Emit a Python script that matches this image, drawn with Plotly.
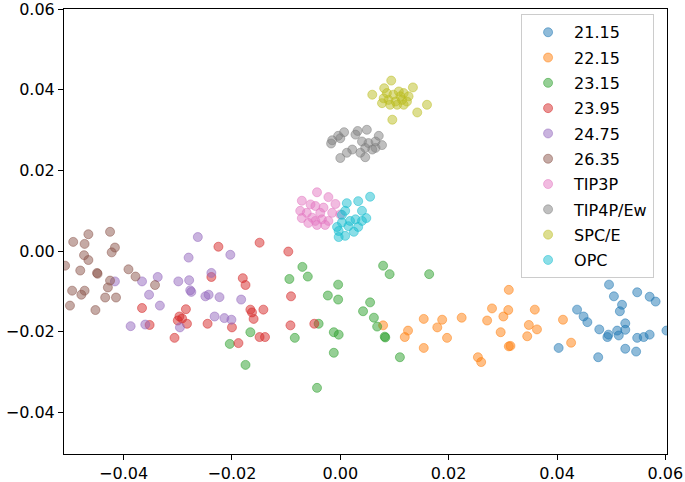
import plotly.graph_objects as go

labels = ["21.15", "22.15", "23.15", "23.95", "24.75", "26.35", "TIP3P", "TIP4P/Ew", "SPC/E", "OPC"]
colors = ["31,119,180", "255,127,14", "44,160,44", "214,39,40", "148,103,189",
          "140,86,75", "227,119,194", "127,127,127", "188,189,34", "23,190,207"]

x_2115 = [0.0496, 0.0505, 0.0548, 0.0571, 0.0582, 0.0520, 0.0516, 0.0437, 0.0449, 0.0456, 0.0478, 0.0493, 0.0495,
          0.0511, 0.0526, 0.0526, 0.0514, 0.0548, 0.0560, 0.0571, 0.0602, 0.0526, 0.0546, 0.0403, 0.0476]
y_2115 = [-0.0083, -0.0112, -0.0102, -0.0113, -0.0125, -0.0133, -0.0149, -0.0145, -0.0162, -0.0176, -0.0194, -0.0213,
          -0.0207, -0.0197, -0.0179, -0.0195, -0.0209, -0.0215, -0.0213, -0.0207, -0.0197, -0.0242, -0.0249, -0.0240, -0.0263]

x_2215 = [0.0079, 0.0125, 0.0119, 0.0154, 0.0188, 0.0179, 0.0197, 0.0154, 0.0224, 0.0280, 0.0310, 0.0301, 0.0311,
          0.0271, 0.0296, 0.0311, 0.0314, 0.0254, 0.0260, 0.0359, 0.0348, 0.0363, 0.0345, 0.0411, 0.0426]
y_2215 = [-0.0184, -0.0197, -0.0213, -0.0168, -0.0170, -0.0189, -0.0215, -0.0240, -0.0165, -0.0142, -0.0146, -0.0162,
          -0.0096, -0.0172, -0.0201, -0.0236, -0.0235, -0.0263, -0.0275, -0.0145, -0.0183, -0.0194, -0.0211, -0.0170, -0.0227]

x_2315 = [-0.0070, -0.0060, -0.0094, -0.0004, -0.0023, -0.0004, -0.0166, -0.0084, -0.0204, -0.0175, -0.0012, -0.0003,
          -0.0012, -0.0043, -0.0040, 0.0079, 0.0091, 0.0164, 0.0055, 0.0042, 0.0062, 0.0068, 0.0082, 0.0083, 0.0110]
y_2315 = [-0.0039, -0.0063, -0.0069, -0.0083, -0.0110, -0.0120, -0.0201, -0.0215, -0.0230, -0.0282, -0.0201, -0.0207,
          -0.0252, -0.0339, -0.0180, -0.0036, -0.0057, -0.0057, -0.0127, -0.0149, -0.0165, -0.0187, -0.0212, -0.0214, -0.0263]

x_2395 = [-0.0225, -0.0149, -0.0096, -0.0238, -0.0180, -0.0175, -0.0091, -0.0366, -0.0285, -0.0297, -0.0300, -0.0283,
          -0.0352, -0.0245, -0.0306, -0.0166, -0.0163, -0.0160, -0.0142, -0.0200, -0.0092, -0.0048, -0.0149, -0.0139,
          -0.0188, -0.0292]
y_2395 = [0.0011, 0.0021, -0.0001, -0.0064, -0.0067, -0.0084, -0.0112, -0.0141, -0.0144, -0.0162, -0.0172, -0.0180,
          -0.0183, -0.0180, -0.0215, -0.0145, -0.0152, -0.0168, -0.0145, -0.0189, -0.0184, -0.0180, -0.0213, -0.0213,
          -0.0228, -0.0167]

x_2475 = [-0.0263, -0.0203, -0.0280, -0.0238, -0.0279, -0.0299, -0.0337, -0.0366, -0.0416, -0.0353, -0.0333, -0.0277,
          -0.0275, -0.0249, -0.0243, -0.0223, -0.0183, -0.0232, -0.0214, -0.0201, -0.0387, -0.0360, -0.0296]
y_2475 = [0.0035, -0.0009, -0.0016, -0.0054, -0.0072, -0.0075, -0.0064, -0.0075, -0.0075, -0.0108, -0.0135, -0.0097,
          -0.0101, -0.0112, -0.0108, -0.0114, -0.0120, -0.0162, -0.0166, -0.0170, -0.0186, -0.0182, -0.0189]

x_2635 = [-0.0465, -0.0425, -0.0493, -0.0472, -0.0416, -0.0422, -0.0473, -0.0465, -0.0508, -0.0480, -0.0449, -0.0448,
          -0.0391, -0.0378, -0.0425, -0.0342, -0.0429, -0.0495, -0.0472, -0.0478, -0.0434, -0.0414, -0.0499, -0.0452]
y_2635 = [0.0042, 0.0048, 0.0023, 0.0018, 0.0009, -0.0003, -0.0010, -0.0022, -0.0036, -0.0048, -0.0054, -0.0056,
          -0.0045, -0.0063, -0.0073, -0.0084, -0.0090, -0.0098, -0.0098, -0.0108, -0.0115, -0.0115, -0.0135, -0.0146]

x_tip3p = [-0.0043, -0.0022, -0.0071, -0.0055, -0.0046, -0.0031, -0.0009, -0.0074, -0.0062, -0.0071, -0.0046, -0.0034,
           -0.0022, -0.0043, -0.0028, -0.0052, -0.0037, -0.0015, 0.0000, -0.0059]
y_tip3p = [0.0146, 0.0134, 0.0125, 0.0116, 0.0112, 0.0108, 0.0117, 0.0100, 0.0095, 0.0082, 0.0075, 0.0079,
           0.0075, 0.0065, 0.0065, 0.0083, 0.0095, 0.0095, 0.0091, 0.0070]

x_tip4p = [-0.0015, -0.0004, 0.0007, -0.0017, 0.0032, 0.0049, 0.0071, 0.0040, 0.0052, 0.0065, 0.0077, 0.0046, 0.0059,
           0.0022, 0.0012, 0.0037, 0.0000, 0.0046, 0.0065, 0.0028, 0.0000]
y_tip4p = [0.0275, 0.0286, 0.0295, 0.0267, 0.0298, 0.0301, 0.0286, 0.0272, 0.0268, 0.0272, 0.0263, 0.0256, 0.0252,
           0.0252, 0.0244, 0.0244, 0.0231, 0.0233, 0.0256, 0.0289, 0.0280]

x_spce = [0.0094, 0.0059, 0.0134, 0.0160, 0.0142, 0.0096, 0.0077, 0.0081, 0.0086, 0.0098, 0.0108, 0.0117, 0.0089,
          0.0102, 0.0114, 0.0123, 0.0080, 0.0105, 0.0117, 0.0092, 0.0126, 0.0111]
y_spce = [0.0423, 0.0388, 0.0406, 0.0363, 0.0344, 0.0326, 0.0367, 0.0404, 0.0392, 0.0388, 0.0396, 0.0392, 0.0375,
          0.0371, 0.0375, 0.0371, 0.0379, 0.0363, 0.0363, 0.0363, 0.0384, 0.0384]

x_opc = [0.0055, 0.0033, 0.0012, 0.0040, 0.0048, 0.0028, 0.0003, 0.0003, 0.0015, 0.0033, -0.0003, 0.0009, 0.0025,
         -0.0003, 0.0018, 0.0040, -0.0006, 0.0009]
y_opc = [0.0135, 0.0124, 0.0119, 0.0100, 0.0082, 0.0079, 0.0090, 0.0071, 0.0062, 0.0060, 0.0050, 0.0038, 0.0048,
         0.0035, 0.0075, 0.0075, 0.0060, 0.0100]

xs = [x_2115, x_2215, x_2315, x_2395, x_2475, x_2635, x_tip3p, x_tip4p, x_spce, x_opc]
ys = [y_2115, y_2215, y_2315, y_2395, y_2475, y_2635, y_tip3p, y_tip4p, y_spce, y_opc]

fig = go.Figure()
for lab, c, x, y in zip(labels, colors, xs, ys):
    fig.add_trace(go.Scatter(
        x=x, y=y, mode="markers", name=lab, legendgroup=lab,
        marker=dict(size=9, color=f"rgba({c},0.5)", line=dict(width=1, color=f"rgba({c},0.5)")),
    ))

font = dict(family="DejaVu Sans", size=16, color="black")
axis_common = dict(
    showline=True, linecolor="black", linewidth=1, mirror=True,
    ticks="outside", ticklen=5, tickwidth=1, tickcolor="black",
    showgrid=False, zeroline=False, tickformat=".2f", dtick=0.02, tick0=0,
    tickfont=font, automargin=False, ticklabeloverflow="allow",
)
fig.update_xaxes(range=[-0.0510, 0.0603], **axis_common)
fig.update_yaxes(range=[-0.0503, 0.06005], **axis_common)

fig.update_layout(
    width=685, height=482,
    margin=dict(l=64, r=18, t=9, b=28),
    plot_bgcolor="white", paper_bgcolor="white",
    font=font,
    legend=dict(
        x=0.758, y=0.988, xanchor="left", yanchor="top",
        bgcolor="rgba(255,255,255,0.8)", bordercolor="#cccccc", borderwidth=1,
        traceorder="grouped", tracegroupgap=1.5, font=font, itemwidth=42,
    ),
)

fig.write_html(
    "out.html",
    config={"displayModeBar": False},
    post_script="document.body.style.margin='0';document.body.style.overflow='hidden';",
)
